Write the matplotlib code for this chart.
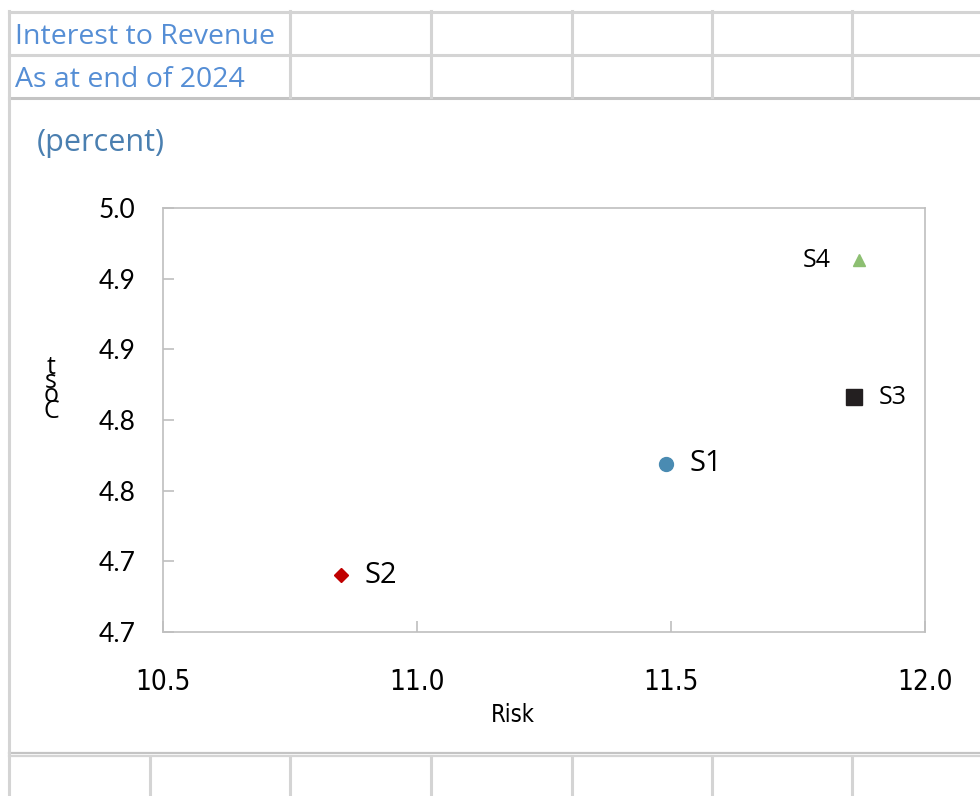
import matplotlib
matplotlib.use('Agg')
import matplotlib.pyplot as plt
from matplotlib.ticker import FixedLocator, FixedFormatter

# data
names = ['S1', 'S2', 'S3', 'S4']
risk = [11.49, 10.85, 11.86, 11.87]
cost = [4.819, 4.740, 4.866, 4.963]
colors = ['#4A8BB2', '#C00000', '#231F20', '#8DBF72']
markers = ['o', 'D', 's', '^']
msizes = [10, 7, 11, 9]
label_sizes = [21, 21, 18, 18]
label_side = ['right', 'right', 'right', 'left']

x_ticks = [10.5, 11.0, 11.5, 12.0]
x_labels = ['10.5', '11.0', '11.5', '12.0']
y_ticks = [4.70, 4.75, 4.80, 4.85, 4.90, 4.95, 5.00]
y_labels = ['4.7', '4.7', '4.8', '4.8', '4.9', '4.9', '5.0']

title1 = 'Interest to Revenue'
title2 = 'As at end of 2024'
unit = '(percent)'

W, H = 980, 796
fig = plt.figure(figsize=(W / 100, H / 100), dpi=100)
fig.patch.set_facecolor('white')

# spreadsheet background, drawn in pixel coords
bg = fig.add_axes([0, 0, 1, 1])
bg.set_xlim(0, W)
bg.set_ylim(H, 0)
bg.axis('off')
grid = '#D4D4D4'
for y in [12, 55]:
    bg.plot([9, W], [y, y], color=grid, lw=2.2)
bg.plot([9, W], [97.5, 97.5], color='#C4C4C4', lw=2.2)
bg.plot([9, W], [753, 753], color='#C4C4C4', lw=1.6)
bg.plot([9, W], [755.5, 755.5], color=grid, lw=1.6)
bg.plot([9, 9], [11, H], color=grid, lw=2.2)
for x in [290, 431, 572, 712, 852]:
    bg.plot([x, x], [11, 97], color=grid, lw=2.2)
for x in [150, 290, 431, 572, 712, 852]:
    bg.plot([x, x], [756, H], color=grid, lw=2.2)

bg.text(15, 37, title1, color='#558ED5', fontsize=20.5, family='Open Sans', va='center')
bg.text(15, 80, title2, color='#558ED5', fontsize=20.5, family='Open Sans', va='center')
bg.text(37, 143, unit, color='#4A7FB0', fontsize=22, family='Open Sans', va='center')

# the y axis title is drawn as stacked letters in the reference
for ch, yy in zip('tsoC', [368, 381, 396, 411]):
    bg.text(51, yy, ch, fontsize=18, family='Open Sans', ha='center', va='center', color='black')

ax = fig.add_axes([163 / W, 1 - 632 / H, (925 - 163) / W, (632 - 208) / H])
offsets = [17, 17, 18, -20]
for i in range(len(names)):
    ax.plot(risk[i], cost[i], marker=markers[i], color=colors[i], markersize=msizes[i],
            linestyle='none', zorder=3)
    ax.annotate(names[i], (risk[i], cost[i]), xytext=(offsets[i], 0), textcoords='offset points',
                ha='left' if label_side[i] == 'right' else 'right', va='center',
                fontsize=label_sizes[i], family='Open Sans')

ax.set_xlim(10.5, 12.0)
ax.set_ylim(4.70, 5.00)
ax.xaxis.set_major_locator(FixedLocator(x_ticks))
ax.xaxis.set_major_formatter(FixedFormatter(x_labels))
ax.yaxis.set_major_locator(FixedLocator(y_ticks))
ax.yaxis.set_major_formatter(FixedFormatter(y_labels))
ax.tick_params(axis='both', direction='in', length=8, color='#BFBFBF', width=1.2)
ax.tick_params(axis='x', pad=26, labelsize=20)
ax.tick_params(axis='y', pad=20, labelsize=19)
for lab in ax.get_xticklabels():
    lab.set_family('DejaVu Sans')
    lab.set_stretch('condensed')
for lab in ax.get_yticklabels():
    lab.set_family('Lato')
for s in ax.spines.values():
    s.set_color('#BFBFBF')
    s.set_linewidth(1.2)
ax.set_xlabel('Risk', fontsize=17, family='DejaVu Sans', stretch='condensed')
ax.xaxis.set_label_coords((513 - 163) / (925 - 163), -0.168)

fig.savefig('out.png', dpi=100, facecolor='white')
